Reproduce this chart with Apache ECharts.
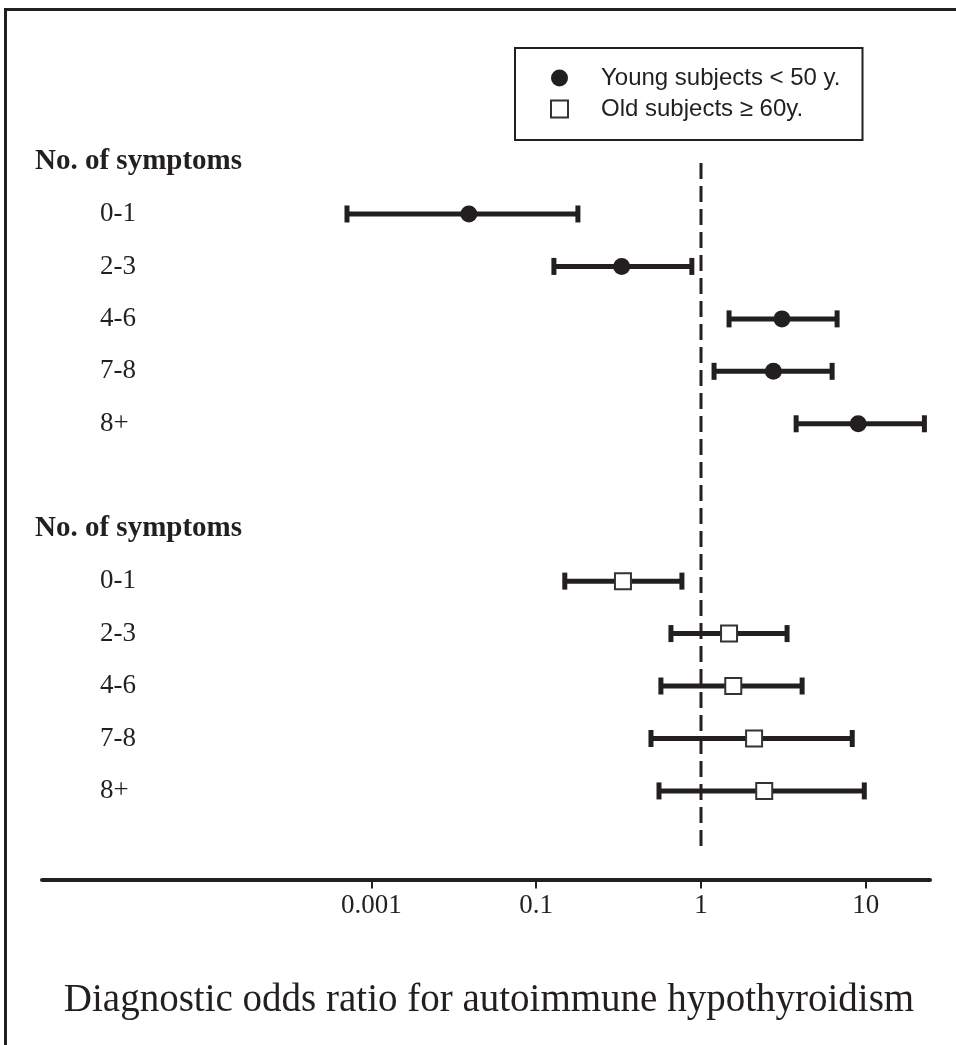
<!DOCTYPE html>
<html>
<head>
<meta charset="utf-8">
<script src="https://cdn.jsdelivr.net/npm/echarts@6/dist/echarts.min.js"></script>
<style>
html,body{margin:0;padding:0;background:#fff;}
#chart{width:956px;height:1045px;}
</style>
</head>
<body>
<div id="chart"></div>
<script>
// ---- data ----
const rowLabels = ['No. of symptoms','0-1','2-3','4-6','7-8','8+','','No. of symptoms','0-1','2-3','4-6','7-8','8+',''];
const headerRows = [0, 7];
const youngRows = [1, 2, 3, 4, 5];
const oldRows = [8, 9, 10, 11, 12];
const youngOR   = [0.039, 0.33, 3.1, 2.75, 9.0];
const youngLow  = [0.0071, 0.128, 1.48, 1.20, 3.78];
const youngHigh = [0.179, 0.88, 6.7, 6.25, 22.7];
const oldOR     = [0.336, 1.48, 1.57, 2.10, 2.42];
const oldLow    = [0.149, 0.657, 0.571, 0.497, 0.556];
const oldHigh   = [0.766, 3.33, 4.11, 8.28, 9.8];
const tickValues = [0.01, 0.1, 1, 10];
const tickLabels = ['0.001', '0.1', '1', '10'];
const refValue = 1;
const seriesNames = ['Young subjects < 50 y.', 'Old subjects \u2265 60y.'];
const xTitle = 'Diagnostic odds ratio for autoimmune hypothyroidism';

// ---- build ----
const L = Math.log10;
const INK = '#231f20';
const SERIF = '"Liberation Serif", "Times New Roman", serif';
const SANS = '"Liberation Sans", Arial, sans-serif';
const tickLogs = tickValues.map(v => +L(v).toFixed(6));

function barData(rows, lo, hi) { return rows.map((r, i) => [r, L(lo[i]), L(hi[i])]); }
function ptData(rows, v) { return rows.map((r, i) => [L(v[i]), r]); }

function renderBar(params, api) {
  const y = api.value(0);
  const a = api.coord([api.value(1), y]);
  const b = api.coord([api.value(2), y]);
  const cap = 17, w = 5;
  const st = { stroke: INK, lineWidth: w };
  return { type: 'group', children: [
    { type: 'line', shape: { x1: a[0], y1: a[1], x2: b[0], y2: b[1] }, style: st },
    { type: 'line', shape: { x1: a[0], y1: a[1] - cap / 2, x2: a[0], y2: a[1] + cap / 2 }, style: st },
    { type: 'line', shape: { x1: b[0], y1: b[1] - cap / 2, x2: b[0], y2: b[1] + cap / 2 }, style: st }
  ]};
}

const chart = echarts.init(document.getElementById('chart'), null, { renderer: 'canvas' });
const n = rowLabels.length;
chart.setOption({
  backgroundColor: '#fff',
  animation: false,
  title: {
    text: xTitle, left: 484, top: 976, textAlign: 'center',
    textStyle: { fontFamily: SERIF, fontSize: 39, fontWeight: 'normal', color: INK }
  },
  legend: {
    orient: 'vertical', left: 515, top: 48,
    padding: [18, 22, 19, 35], itemGap: 7,
    itemWidth: 17, itemHeight: 17,
    borderColor: INK, borderWidth: 2,
    selectedMode: false,
    data: [
      { name: seriesNames[0], icon: 'circle' },
      { name: seriesNames[1], icon: 'rect', itemStyle: { color: '#fff', borderColor: '#333', borderWidth: 2 } }
    ],
    formatter: name => '{t|' + name + '}',
    textStyle: {
      fontFamily: SANS, fontSize: 24, color: INK,
      rich: { t: { fontFamily: SANS, fontSize: 24, color: INK, lineHeight: 24, padding: [0, 0, 0, 28] } }
    }
  },
  graphic: [{
    type: 'rect', left: 3, top: 7, shape: { width: 1000, height: 1100 },
    style: { fill: 'none', stroke: INK, lineWidth: 3 }, silent: true, z: 100
  }],
  grid: { left: 42, right: 26, top: 135.3, height: 734.3 },
  xAxis: {
    type: 'value', min: -4, max: 1.39, offset: 10, position: 'bottom',
    splitLine: { show: false },
    axisLine: { show: true, onZero: false, lineStyle: { color: INK, width: 4 } },
    axisTick: { show: true, customValues: tickLogs, length: 9, lineStyle: { color: INK, width: 2 } },
    axisLabel: {
      customValues: tickLogs, margin: 13,
      fontFamily: SERIF, fontSize: 27, color: INK,
      formatter: v => { const i = tickLogs.findIndex(t => Math.abs(t - v) < 1e-6); return i >= 0 ? tickLabels[i] : ''; }
    }
  },
  yAxis: [
    { type: 'value', inverse: true, min: -0.5, max: n - 0.5, show: false },
    {
      type: 'category', inverse: true, data: rowLabels, position: 'left',
      axisLine: { show: false }, axisTick: { show: false }, splitLine: { show: false },
      axisLabel: {
        interval: 0, align: 'left', margin: 7,
        fontFamily: SERIF, fontSize: 29, fontWeight: 'bold', color: INK,
        formatter: (v, i) => headerRows.indexOf(i) >= 0 ? v : ''
      }
    },
    {
      type: 'category', inverse: true, data: rowLabels, position: 'left',
      axisLine: { show: false }, axisTick: { show: false }, splitLine: { show: false },
      axisLabel: {
        interval: 0, align: 'left', margin: -58,
        fontFamily: SERIF, fontSize: 27, color: INK,
        formatter: (v, i) => headerRows.indexOf(i) >= 0 ? '' : v
      }
    }
  ],
  series: [
    {
      type: 'line', yAxisIndex: 0, silent: true, symbol: 'none', z: 1,
      data: [[L(refValue), 0.03], [L(refValue), 13.05]],
      lineStyle: { color: INK, width: 3, type: [16, 7] }
    },
    {
      type: 'custom', yAxisIndex: 0, renderItem: renderBar, z: 2,
      encode: { x: [1, 2], y: 0 }, data: barData(youngRows, youngLow, youngHigh)
    },
    {
      type: 'custom', yAxisIndex: 0, renderItem: renderBar, z: 2,
      encode: { x: [1, 2], y: 0 }, data: barData(oldRows, oldLow, oldHigh)
    },
    {
      name: seriesNames[0], type: 'scatter', yAxisIndex: 0, z: 5,
      symbol: 'circle', symbolSize: 17, itemStyle: { color: INK, opacity: 1 },
      data: ptData(youngRows, youngOR)
    },
    {
      name: seriesNames[1], type: 'scatter', yAxisIndex: 0, z: 5,
      symbol: 'rect', symbolSize: 16,
      itemStyle: { color: '#fff', borderColor: '#333', borderWidth: 2, opacity: 1 },
      data: ptData(oldRows, oldOR)
    }
  ]
});
</script>
</body>
</html>
